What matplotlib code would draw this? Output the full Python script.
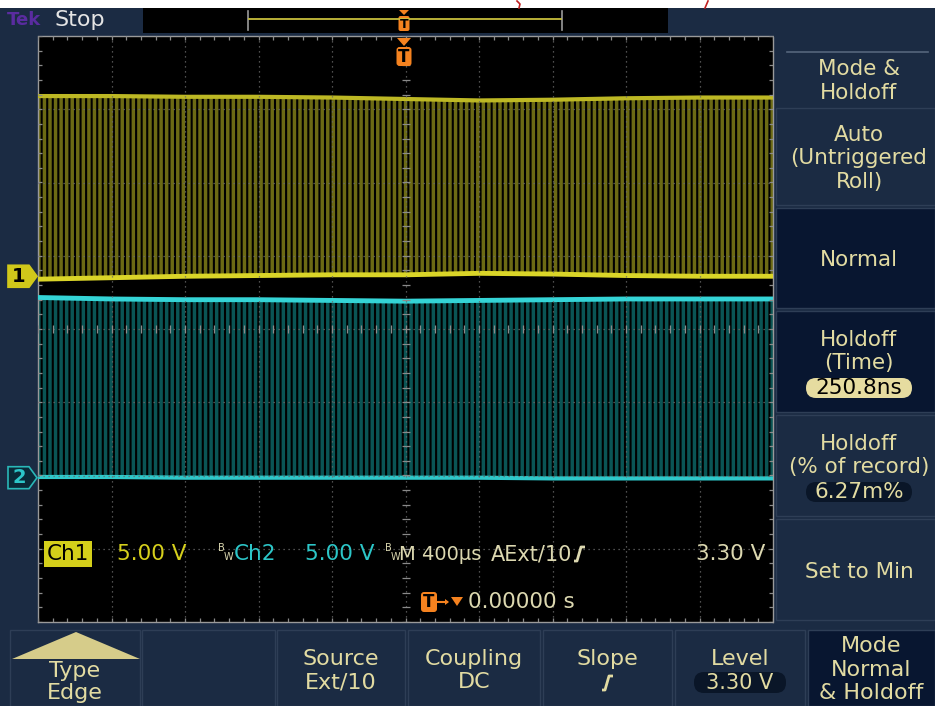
import matplotlib.pyplot as plt
from matplotlib.patches import Rectangle, Polygon, FancyBboxPatch
from matplotlib.transforms import blended_transform_factory
import numpy as np

# scope settings
volts_per_div = 5.0
time_per_div = 400  # us
ch1_position = 0.72  # divisions above centre
ch2_position = -2.03

# envelope of the two pulse trains, read every 400 us
times_us = [-2000, -1600, -1200, -800, -400, 0, 400, 800, 1200, 1600, 2000]
ch1_high = [12.3, 12.3, 12.25, 12.25, 12.2, 12.1, 12.0, 12.05, 12.15, 12.2, 12.2]
ch1_low = [-0.2, -0.1, 0.0, 0.05, 0.1, 0.1, 0.2, 0.15, 0.05, 0.0, 0.0]
ch2_high = [12.3, 12.2, 12.15, 12.15, 12.1, 12.05, 12.1, 12.15, 12.2, 12.2, 12.2]
ch2_low = [0.05, 0.05, 0.0, 0.0, 0.0, 0.0, 0.0, -0.05, -0.05, -0.05, -0.05]

# menus
side_labels = [['Mode &', 'Holdoff'], ['Auto', '(Untriggered', 'Roll)'], ['Normal'],
               ['Holdoff', '(Time)'], ['Holdoff', '(% of record)'], ['Set to Min']]
side_values = [None, None, None, '250.8ns', '6.27m%', None]
side_selected = [False, False, True, True, False, False]
bottom_labels = [['Type', 'Edge'], [], ['Source', 'Ext/10'], ['Coupling', 'DC'],
                 ['Slope'], ['Level'], ['Mode', 'Normal', '& Holdoff']]
bottom_values = [None, None, None, None, None, '3.30 V', None]

NAVY = '#1b2b43'
DARK = '#081630'
MENU_TXT = '#e2dba2'
YEL = '#d6d01c'
CYAN = '#2cc6c8'
PALE = '#dcd8b0'
ORANGE = '#f5821f'

plt.rcParams['font.family'] = ['DejaVu Sans']
plt.rcParams['hatch.linewidth'] = 1.5

W, H = 935, 706
fig = plt.figure(figsize=(W / 100, H / 100), dpi=100)
fig.patch.set_facecolor(NAVY)

bg = fig.add_axes([0, 0, 1, 1], zorder=0)
bg.set_xlim(0, W)
bg.set_ylim(H, 0)
bg.axis('off')

gx0, gx1, gy0, gy1 = 38, 773, 36, 622
sc = fig.add_axes([gx0 / W, 1 - gy1 / H, (gx1 - gx0) / W, (gy1 - gy0) / H], zorder=2)
sc.set_facecolor('black')
sc.set_xlim(-5 * time_per_div, 5 * time_per_div)
sc.set_ylim(-4, 4)
sc.set_xticks([])
sc.set_yticks([])
for s in sc.spines.values():
    s.set_color('#9a9a9a')
    s.set_linestyle((0, (1, 1)))
    s.set_linewidth(1.0)

ov = fig.add_axes([0, 0, 1, 1], zorder=5)
ov.set_xlim(0, W)
ov.set_ylim(H, 0)
ov.axis('off')
ov.patch.set_visible(False)

# ---- top bar ----
bg.add_patch(Rectangle((0, 0), W, 8, fc='white', ec='none'))
bg.plot([517, 520, 519], [1, 4, 8], color='#c02020', lw=1.2)
bg.plot([708, 705], [1, 8], color='#c02020', lw=1.2)
bg.add_patch(Rectangle((143, 8), 525, 25, fc='black', ec='none'))
bg.text(7, 20, 'Tek', color='#5a2ca0', fontsize=13, fontweight='bold', va='center')
bg.text(55, 20, 'Stop', color='#e4e4e4', fontsize=16, va='center')
bg.plot([248, 248], [11, 30], color='#9a9a9a', lw=1.2)
bg.plot([562, 562], [11, 30], color='#9a9a9a', lw=1.2)
bg.plot([249, 561], [19, 19], color='#c8bf3c', lw=1.3)
bg.add_patch(Polygon([(399, 10), (409, 10), (404, 15)], fc=ORANGE, ec='none'))
bg.add_patch(FancyBboxPatch((398.5, 16), 11, 15, boxstyle='round,pad=0,rounding_size=2',
                            fc=ORANGE, ec='none'))
bg.text(404, 24, 'T', color='black', fontsize=9, fontweight='bold', ha='center', va='center')

# ---- side menu ----
bg.plot([787, 928], [52, 52], color='#55657c', lw=1.2)
side_boxes = [(36, 106), (108, 205), (208, 308), (311, 412), (415, 516), (519, 620)]
for i, (y0, y1) in enumerate(side_boxes):
    fc = DARK if side_selected[i] else NAVY
    if i > 0:
        bg.add_patch(Rectangle((776, y0), 159, y1 - y0, fc=fc, ec='#2e3e56', lw=1.0))
    lines = list(side_labels[i])
    n = len(lines) + (1 if side_values[i] else 0)
    c = (max(y0, 52) + y1) / 2 + 2
    ys = [c + (k - (n - 1) / 2) * 23.5 for k in range(n)]
    for k, txt in enumerate(lines):
        bg.text(859, ys[k], txt, color=MENU_TXT, fontsize=15.5, ha='center', va='center')
    if side_values[i]:
        yv = ys[-1] + 1
        light = side_selected[i]
        bg.add_patch(FancyBboxPatch((806, yv - 10), 106, 20,
                                    boxstyle='round,pad=0,rounding_size=10',
                                    fc='#e6dca0' if light else '#0a1628', ec='none'))
        bg.text(859, yv, side_values[i], color='black' if light else MENU_TXT,
                fontsize=15.5, ha='center', va='center')

# ---- bottom menu ----
bottom_boxes = [(10, 140), (142, 275), (277, 405), (408, 540), (543, 672), (675, 805), (808, 935)]
for i, (x0, x1) in enumerate(bottom_boxes):
    fc = DARK if i == len(bottom_boxes) - 1 else NAVY
    bg.add_patch(Rectangle((x0, 630), x1 - x0, 76, fc=fc, ec='#2e3e56', lw=1.0))
    cx = (x0 + x1) / 2
    lines = bottom_labels[i]
    if i == 0:
        bg.add_patch(Polygon([(12, 659), (140, 659), (76, 632)], fc='#d6cc8a', ec='none'))
        ys = [671, 693]
    elif len(lines) == 3:
        ys = [646, 670, 693]
    else:
        ys = [659, 682]
    for k, txt in enumerate(lines):
        bg.text(cx, ys[k], txt, color=MENU_TXT, fontsize=16, ha='center', va='center')
    if bottom_values[i]:
        bg.add_patch(FancyBboxPatch((cx - 46, 672), 92, 21,
                                    boxstyle='round,pad=0,rounding_size=10',
                                    fc='#0a1628', ec='none'))
        bg.text(cx, 683, bottom_values[i], color=MENU_TXT, fontsize=15,
                ha='center', va='center')


def slope_glyph(ax, x, y, h, color, lw=2.0):
    ax.plot([x, x + 3, x + 7, x + 11], [y + h / 2, y + h / 2, y - h / 2, y - h / 2],
            color=color, lw=lw, solid_capstyle='butt')


slope_glyph(bg, 602, 683, 14, MENU_TXT)

# ---- graticule ----
grid_c = '#6a6a6a'
for k in range(-4, 5):
    sc.axvline(k * time_per_div, color=grid_c, lw=0.9, ls=(0, (1, 3)), zorder=5)
for k in range(-3, 4):
    sc.axhline(k, color=grid_c, lw=0.9, ls=(0, (1, 3)), zorder=5)
minor_x = np.arange(-5 * time_per_div, 5 * time_per_div + 1, time_per_div / 5)
minor_y = np.arange(-4, 4.01, 0.2)
tx = 4 / 73.5 * time_per_div
ty = 4 / 73.25
sc.hlines(minor_y, -tx, tx, color='#8a8a8a', lw=0.9, zorder=5)
sc.vlines(minor_x, -ty, ty, color='#8a8a8a', lw=0.9, zorder=5)
sc.vlines(minor_x, 4 - ty, 4, color='#8a8a8a', lw=0.9, zorder=5)
sc.vlines(minor_x, -4, -4 + ty, color='#8a8a8a', lw=0.9, zorder=5)
sc.hlines(minor_y, -2000, -2000 + tx, color='#8a8a8a', lw=0.9, zorder=5)
sc.hlines(minor_y, 2000 - tx, 2000, color='#8a8a8a', lw=0.9, zorder=5)

# ---- waveforms ----
t = np.array(times_us)


def to_div(v, pos):
    return pos + np.array(v) / volts_per_div


sc.fill_between(t, to_div(ch1_low, ch1_position), to_div(ch1_high, ch1_position),
                facecolor='#6c6a14', edgecolor='black', hatch='|||', linewidth=0, zorder=2)
sc.plot(t, to_div(ch1_high, ch1_position), color='#bdb824', lw=3, zorder=3)
sc.plot(t, to_div(ch1_low, ch1_position), color='#dad528', lw=3.5, zorder=3)
sc.fill_between(t, to_div(ch2_low, ch2_position), to_div(ch2_high, ch2_position),
                facecolor='#0a5555', edgecolor='black', hatch='|||', linewidth=0, zorder=2)
sc.plot(t, to_div(ch2_high, ch2_position), color='#34d4d6', lw=3.5, zorder=3)
sc.plot(t, to_div(ch2_low, ch2_position), color='#2ec8ca', lw=3, zorder=3)

# channel ground markers
tr = blended_transform_factory(ov.transData, sc.transData)
for pos, fc, ec, tc, lab in [(ch1_position, '#d0c81a', '#d0c81a', 'black', '1'),
                             (ch2_position, '#0a2a38', '#2ab8b8', CYAN, '2')]:
    h = 0.15
    ov.add_patch(Polygon([(8, pos + h), (29, pos + h), (37, pos), (29, pos - h), (8, pos - h)],
                         closed=True, fc=fc, ec=ec, lw=1.2, transform=tr, clip_on=False))
    ov.text(19, pos, lab, color=tc, fontsize=14, fontweight='bold', ha='center',
            va='center', transform=tr)

# trigger position marker
ov.add_patch(Polygon([(397, 38), (411, 38), (404, 46)], fc=ORANGE, ec='none'))
ov.add_patch(FancyBboxPatch((396.5, 47), 15, 19, boxstyle='round,pad=0,rounding_size=3',
                            fc=ORANGE, ec='none'))
ov.text(404, 57, 'T', color='black', fontsize=12, fontweight='bold', ha='center', va='center')

# ---- readouts ----
ov.add_patch(Rectangle((44, 541), 48, 26, fc='#d4cf1a', ec='none'))
ov.text(68, 554, 'Ch1', color='black', fontsize=15.5, ha='center', va='center')
ov.text(117, 554, '5.00 V', color=YEL, fontsize=15.5, va='center')
ov.text(218, 548, 'B', color=PALE, fontsize=7, va='center')
ov.text(224, 557, 'W', color=PALE, fontsize=7, va='center')
ov.text(234, 554, 'Ch2', color=CYAN, fontsize=15.5, va='center')
ov.text(305, 554, '5.00 V', color=CYAN, fontsize=15.5, va='center')
ov.text(385, 548, 'B', color=PALE, fontsize=7, va='center')
ov.text(391, 557, 'W', color=PALE, fontsize=7, va='center')
ov.text(399, 554, 'M 400\u00b5s', color=PALE, fontsize=14, va='center')
ov.text(491, 554, 'AExt/10', color=PALE, fontsize=15, va='center')
slope_glyph(ov, 574, 554, 14, PALE)
ov.text(765, 554, '3.30 V', color=PALE, fontsize=15.5, ha='right', va='center')

ov.add_patch(FancyBboxPatch((421, 592), 16, 20, boxstyle='round,pad=0,rounding_size=3',
                            fc=ORANGE, ec='none'))
ov.text(429, 602, 'T', color='black', fontsize=12, fontweight='bold', ha='center', va='center')
ov.plot([438, 447], [602, 602], color=ORANGE, lw=1.5)
ov.add_patch(Polygon([(445, 599), (449, 602), (445, 605)], fc=ORANGE, ec='none'))
ov.add_patch(Polygon([(451, 597), (463, 597), (457, 606)], fc=ORANGE, ec='none'))
ov.text(468, 602, '0.00000 s', color=PALE, fontsize=15.5, va='center')

fig.savefig('out.png', dpi=100, facecolor=fig.get_facecolor())
